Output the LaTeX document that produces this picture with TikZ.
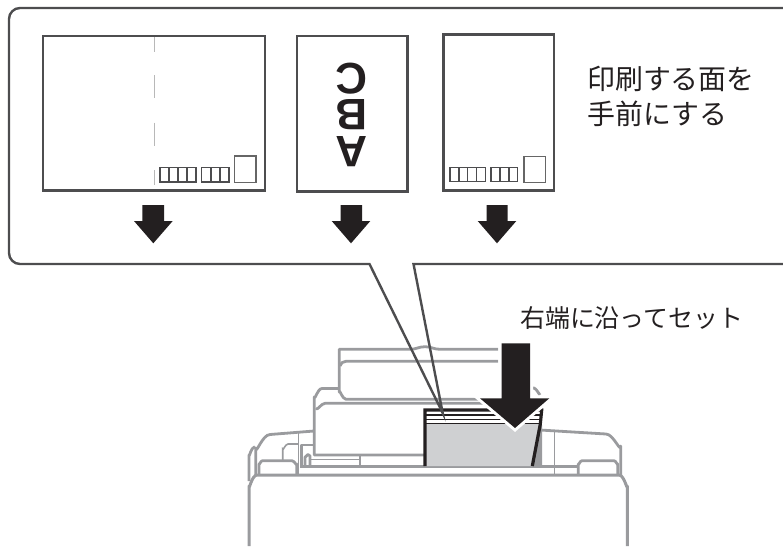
\documentclass[tikz,border=0pt]{standalone}
\usepackage{fontspec}
\usepackage{xcolor}
\setmainfont{Liberation Sans}
\newfontfamily\cjk{Noto Sans CJK JP}
\usetikzlibrary{positioning}
\definecolor{inkdark}{HTML}{231F20}
\definecolor{linedark}{HTML}{4D4D4F}
\definecolor{linegray}{HTML}{9A9B9E}
\definecolor{papergray}{HTML}{CFD0D2}
\tikzset{
    card/.style={draw=linedark, line width=2.5pt},
    fold/.style={draw=black!28, line width=1.5pt},
    cellbox/.style={draw=linedark, line width=1.2pt},
    stampbox/.style={draw=black!60, line width=1.1pt},
    downarrow/.style={fill=inkdark},
    setarrow/.style={fill=inkdark, preaction={draw=white, line width=6pt}},
    balloon/.style={draw=linedark, line width=2.4pt},
    body/.style={draw=linegray, line width=2.8pt, line join=round},
    thinbody/.style={draw=linegray, line width=1.6pt},
    sheet/.style={draw=inkdark, line width=3.2pt},
    letters/.style={font=\fontsize{44}{36.5}\selectfont\bfseries, text=inkdark, inner sep=0pt, rotate=180, align=center},
    caption/.style={font=\cjk\fontsize{27.9}{35}\selectfont, text=inkdark, inner sep=0pt, align=left, anchor=north west}
}
\begin{document}
\begin{tikzpicture}[x=1pt,y=-1pt]
    \useasboundingbox (0,0) rectangle (783,546);

    % Printer, rear part
    \draw[body] (498,361.3) -- (346,361.3) to[out=180,in=80] (340,366);
    \draw[body] (498,349.3) -- (440,349.3) to[out=180,in=0] (425,346.7) to[out=180,in=0] (410,349.3) -- (339.3,349.3) -- (339.3,392) to[out=90,in=180] (346,399.3) -- (480,399.3);
    \draw[body] (339,388.5) -- (322,388.5) to[out=180,in=-90] (314.3,397) -- (314.3,455) -- (425,455);
    \draw[body] (316,408) to[out=-80,in=180] (325,403.3) -- (487,403.3);
    \draw[body] (531.7,388.3) to[out=30,in=130] (540,395);

    % Printer, left side
    \draw[body] (314,431) -- (270,434.5) to[out=180,in=-90] (255.7,448) -- (255.7,475);
    \draw[body] (255,446.7) to[out=180,in=-90] (249,455) -- (249,481);
    \draw[body] (259,475) -- (259,464) to[out=-90,in=180] (262.5,460.7) -- (292,460.7) to[out=0,in=-90] (296.7,464) -- (296.7,475);
    \draw[thinbody] (298.3,433.3) -- (298.3,475);
    \draw[thinbody] (282.7,460) -- (282.7,449) to[out=-90,in=180] (288,444) -- (298.3,444);
    \draw[body] (301.7,466.7) -- (301.7,445) -- (314,445);
    \draw[body] (305,466) -- (305,457) to[out=-90,in=180] (308,454.5) -- (310,456) -- (310,466);
    \draw[thinbody] (309,459.3) -- (360,459.3);
    \draw[thinbody] (360,455) -- (360,466);

    % Printer, right side
    \draw[body] (540,430) -- (606,434) to[out=0,in=-90] (620.7,446) -- (620.7,475);
    \draw[thinbody] (554.3,431.7) -- (554.3,475);
    \draw[body] (578.3,475) -- (578.3,464) to[out=-90,in=180] (582,460.7) -- (614,460.7) to[out=0,in=-90] (617.7,464) -- (617.7,475);

    % Printer, front
    \draw[body] (300,466.5) -- (578.3,466.5);
    \draw[body, line width=3pt] (249,546) -- (249,486) to[out=-90,in=180] (257,475) -- (619,475) to[out=0,in=-90] (627.3,486) -- (627.3,546);

    % Paper stack
    \fill[papergray] (425,423.3) -- (539.3,423.3) -- (531.7,466) -- (425,466) -- cycle;
    \fill[linegray] (539.5,425) -- (542,425) -- (542,466) -- (533.5,466) -- cycle;
    \draw[sheet] (425,466) -- (425,410) -- (541.7,410) -- (540.3,424) -- (532.3,466);
    \draw[inkdark, line width=1.2pt] (425,415) -- (541,415);
    \draw[inkdark, line width=1.6pt] (425,419.3) -- (541,419.3);
    \draw[inkdark, line width=1.6pt] (425,423.3) -- (540,423.3);

    % Set arrow
    \path[setarrow] (501.7,343.3) -- (530,343.3) -- (530,398.3) -- (549.3,398.3) -- (515,428) -- (480,398.3) -- (501.7,398.3) -- cycle;

    % Balloon
    \draw[balloon, rounded corners=11pt] (783,8) -- (9,8) -- (9,264) [sharp corners] -- (369.5,264) -- (442.7,413) -- (413.5,264) -- (783,264);

    % Postcard, landscape
    \draw[card] (43,36) rectangle (265,190.5);
    \draw[fold] (154.7,37) -- (154.7,51.7);
    \draw[fold] (154.7,75) -- (154.7,98);
    \draw[fold] (154.7,122.7) -- (154.7,146);
    \draw[fold] (154.7,170) -- (154.7,185);
    \draw[cellbox] (160,167.3) rectangle (196,182);
    \draw[cellbox] (169,167.3) -- (169,182);
    \draw[cellbox] (178,167.3) -- (178,182);
    \draw[cellbox] (187,167.3) -- (187,182);
    \draw[cellbox] (201.7,167.3) rectangle (229,182);
    \draw[cellbox] (211,167.3) -- (211,182);
    \draw[cellbox] (220,167.3) -- (220,182);
    \draw[stampbox] (234.3,156) rectangle (256,182.3);

    % Portrait sheet with letters
    \draw[card] (297,36) rectangle (407.3,191.5);
    \node[letters] (sampletext) at (351.5,114.7) {A\\B\\C};

    % Postcard, portrait
    \draw[card] (443.7,34.5) rectangle (554,190.5);
    \draw[cellbox] (450,167.3) rectangle (485.3,181.7);
    \draw[cellbox] (459,167.3) -- (459,181.7);
    \draw[cellbox] (467.5,167.3) -- (467.5,181.7);
    \draw[cellbox] (476.5,167.3) -- (476.5,181.7);
    \draw[cellbox] (491,167.3) rectangle (517.7,181.7);
    \draw[cellbox] (500,167.3) -- (500,181.7);
    \draw[cellbox] (509,167.3) -- (509,181.7);
    \draw[stampbox] (524,156.7) rectangle (545.3,182.3);

    % Insert arrows
    \path[downarrow] (142.3,205) -- (164,205) -- (164,221) -- (172.7,221) -- (153.3,243.3) -- (134,221) -- (142.3,221) -- cycle;
    \path[downarrow] (340.7,205) -- (362,205) -- (362,221) -- (370.3,221) -- (351,243.3) -- (331.7,221) -- (340.7,221) -- cycle;
    \path[downarrow] (486.7,205) -- (507.7,205) -- (507.7,221) -- (516.3,221) -- (497,243.3) -- (477.7,221) -- (486.7,221) -- cycle;

    % Captions
    \node[caption] (printside) at (587,65.5) {印刷する面を\\手前にする};
    \node[caption, font=\cjk\fontsize{24.9}{30}\selectfont] (rightedge) at (520,306.5) {右端に沿ってセット};
\end{tikzpicture}
\end{document}
